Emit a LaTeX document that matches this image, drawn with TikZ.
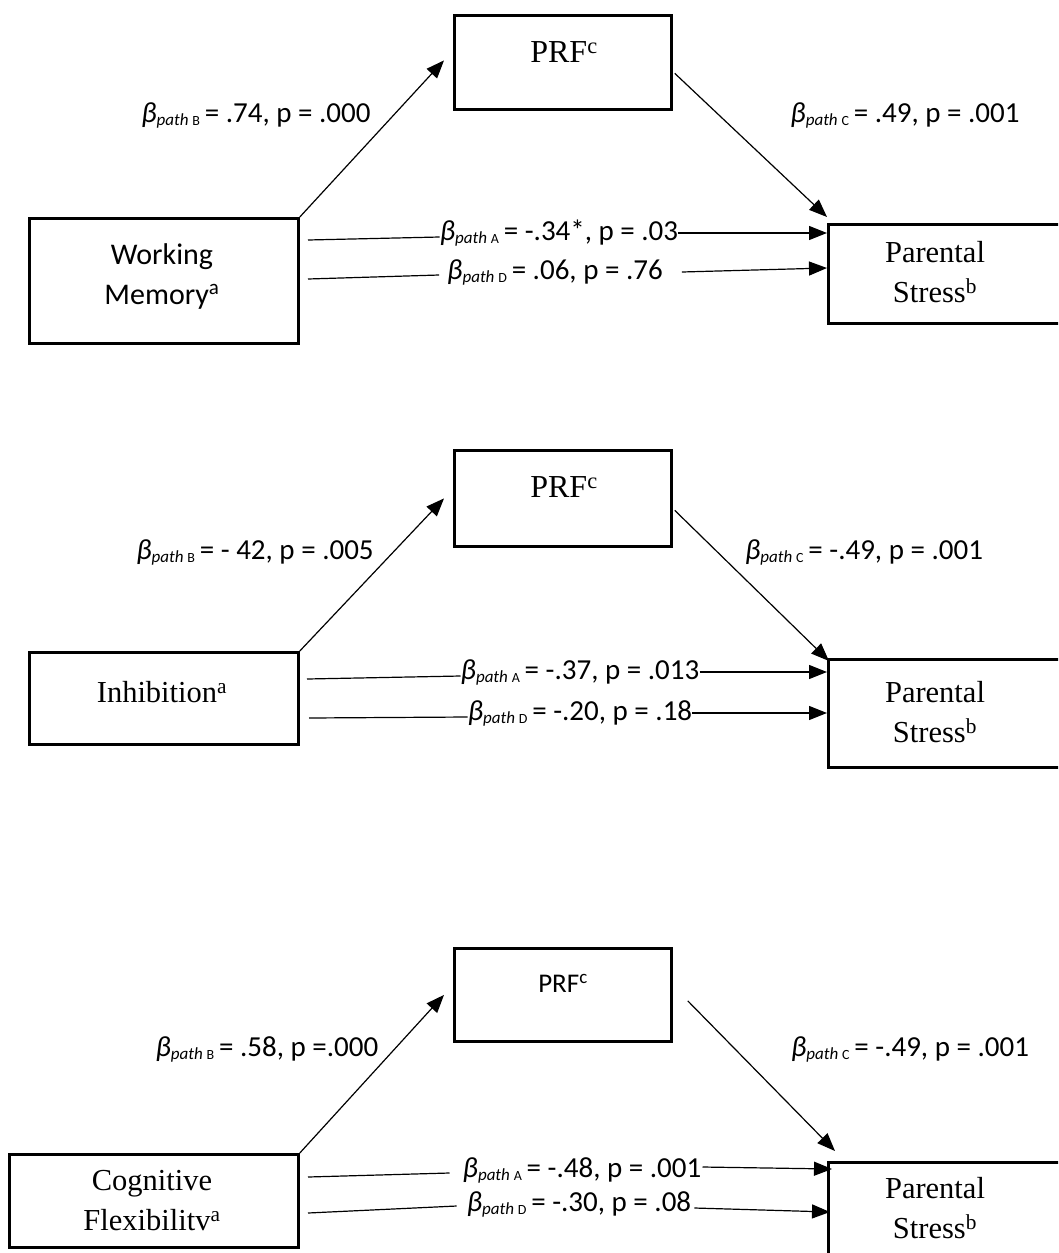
\documentclass[tikz,border=0pt]{standalone}
\usepackage{fontspec}
\setmainfont{Liberation Serif}
\newfontfamily\calfont{Carlito}
\usetikzlibrary{arrows.meta}
\newcommand\bp[2]{{\itshape β}\raisebox{-3pt}{\fontsize{17}{17}\selectfont\itshape path }\raisebox{-3pt}{\fontsize{14}{14}\selectfont #1}\,#2}
\begin{document}
\begin{tikzpicture}[x=1pt,y=-1pt,
  box/.style={draw, line width=2.8pt, inner sep=0pt, anchor=north west},
  sertext/.style={font=\fontsize{30.5}{40}\selectfont, align=center, inner sep=0pt},
  prftext/.style={font=\fontsize{32}{36}\selectfont, inner sep=0pt},
  caltext/.style={font=\calfont\fontsize{30}{40}\selectfont, align=center, inner sep=0pt},
  lab/.style={font=\calfont\fontsize{29}{32}\selectfont, inner sep=0pt},
  conn/.style={line width=1.2pt},
  arr/.style={line width=1.2pt, -{Triangle[length=18pt,width=14pt]}}]
\useasboundingbox (0,0) rectangle (1058,1253);
\clip (0,0) rectangle (1058,1253);

% ---------- Panel 1 ----------
\node[box, minimum width=269pt, minimum height=125pt] (wm) at (28,217) {};
\node[caltext] (wmt) at (162,276) {Working\\Memory\textsuperscript{a}};
\node[box, minimum width=217pt, minimum height=94pt] (prf1) at (453,14) {};
\node[prftext] (prf1t) at (564,52) {PRF\textsuperscript{c}};
\node[box, minimum width=260pt, minimum height=99pt] (ps1) at (827,223) {};
\node[sertext] (ps1t) at (935,272) {Parental\\Stress\textsuperscript{b}};

\node[lab] (lB1) at (256,115) {\bp{B}{= .74, p = .000}};
\node[lab] (lC1) at (905,115) {\bp{C}{= .49, p = .001}};
\node[lab] (lA1) at (559,233) {\bp{A}{= -.34*, p = .03}};
\node[lab] (lD1) at (555,272) {\bp{D}{= .06, p = .76}};

\coordinate (sA1) at (308,240);
\coordinate (sD1) at (308,279);
\draw[arr] (wm.north east) -- ([xshift=-9pt,yshift=2pt]prf1.west);
\draw[arr] ([xshift=2pt,yshift=-11pt]prf1.east) -- ([yshift=6pt]ps1.north west);
\draw[conn] (sA1) -- ([yshift=-4pt]lA1.west);
\draw[arr] (lA1.east) -- ([yshift=-10pt]ps1.north west);
\draw[conn] (sD1) -- ([xshift=-8pt,yshift=-3pt]lD1.west);
\draw[arr] ([xshift=19pt]lD1.east) -- ([yshift=-45pt]ps1.north west);

% ---------- Panel 2 ----------
\node[box, minimum width=269pt, minimum height=92pt] (inh) at (28,651) {};
\node[sertext] (inht) at (162,692) {Inhibition\textsuperscript{a}};
\node[box, minimum width=217pt, minimum height=96pt] (prf2) at (453,449) {};
\node[prftext] (prf2t) at (564,487) {PRF\textsuperscript{c}};
\node[box, minimum width=260pt, minimum height=108pt] (ps2) at (827,658) {};
\node[sertext] (ps2t) at (935,712) {Parental\\Stress\textsuperscript{b}};

\node[lab] (lB2) at (255,552) {\bp{B}{= - 42, p = .005}};
\node[lab] (lC2) at (864,552) {\bp{C}{= -.49, p = .001}};
\node[lab] (lA2) at (580,672) {\bp{A}{= -.37, p = .013}};
\node[lab] (lD2) at (580,713) {\bp{D}{= -.20, p = .18}};

\coordinate (sA2) at (307,679);
\coordinate (sD2) at (309,718);
\draw[arr] (inh.north east) -- ([xshift=-9pt]prf2.west);
\draw[arr] ([xshift=2pt,yshift=-12pt]prf2.east) -- ([xshift=2pt,yshift=-3pt]ps2.north west);
\draw[conn] (sA2) -- ([yshift=-4pt]lA2.west);
\draw[arr] (lA2.east) -- ([yshift=-14pt]ps2.north west);
\draw[conn] (sD2) -- ([yshift=-4pt]lD2.west);
\draw[arr] (lD2.east) -- ([yshift=-55pt]ps2.north west);

% ---------- Panel 3 ----------
\node[box, minimum width=289pt, minimum height=93pt] (cf) at (8,1153) {};
\node[sertext] (cft) at (152,1201) {Cognitive\\Flexibilitv\textsuperscript{a}};
\node[box, minimum width=217pt, minimum height=93pt] (prf3) at (453,947) {};
\node[font=\calfont\fontsize{27}{30}\selectfont, inner sep=0pt] (prf3t) at (563,983) {PRF\textsuperscript{c}};
\node[box, minimum width=260pt, minimum height=120pt] (ps3) at (827,1161) {};
\node[sertext] (ps3t) at (935,1208) {Parental\\Stress\textsuperscript{b}};

\node[lab] (lB3) at (267,1049) {\bp{B}{= .58, p =.000}};
\node[lab] (lC3) at (910,1049) {\bp{C}{= -.49, p = .001}};
\node[lab] (lA3) at (582,1170) {\bp{A}{= -.48, p = .001}};
\node[lab] (lD3) at (579,1204) {\bp{D}{= -.30, p = .08}};

\coordinate (sA3) at (308,1177);
\coordinate (sD3) at (308,1213);
\draw[arr] (cf.north east) -- ([xshift=-9pt]prf3.west);
\draw[arr] ([xshift=15pt,yshift=-6pt]prf3.east) -- ([xshift=8pt,yshift=10pt]ps3.north west);
\draw[conn] (sA3) -- ([xshift=-13pt,yshift=-3pt]lA3.west);
\draw[arr] ([xshift=1pt,yshift=3pt]lA3.east) -- ([xshift=5pt,yshift=-8pt]ps3.north west);
\draw[conn] (sD3) -- ([xshift=-10pt,yshift=-2pt]lD3.west);
\draw[arr] ([xshift=3pt,yshift=-4pt]lD3.east) -- ([xshift=3pt,yshift=-51pt]ps3.north west);
\end{tikzpicture}
\end{document}
